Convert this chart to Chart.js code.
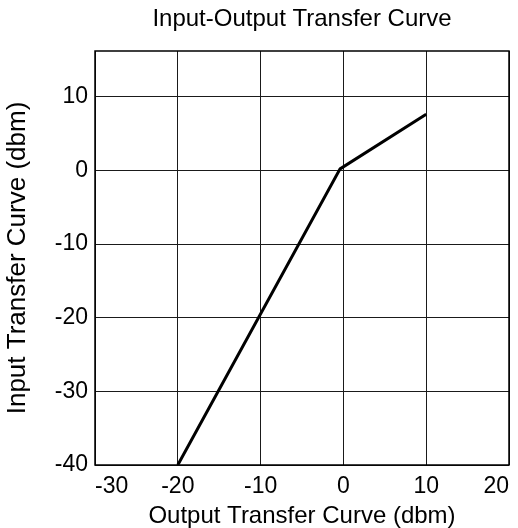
<!DOCTYPE html>
<html>
<head>
<meta charset="utf-8">
<script src="https://cdn.jsdelivr.net/npm/chart.js@4/dist/chart.umd.min.js"></script>
<style>
  html, body { margin: 0; padding: 0; background: #ffffff; }
  #wrap { width: 518px; height: 528px; }
</style>
</head>
<body>
<div id="wrap"><canvas id="curveChart"></canvas></div>
<script>
  // nilai
  const outputDbm = [-20, -0.4, 10];
  const inputDbm = [-40, 0.2, 7.6];
  const xTicks = [-30, -20, -10, 0, 10, 20];
  const yTicks = [-40, -30, -20, -10, 0, 10];
  const yTop = 16.2;

  const points = outputDbm.map((x, i) => ({ x: x, y: inputDbm[i] }));

  const fontName = "'Liberation Sans', Arial, sans-serif";

  // bingkai kotak plot
  const framePlugin = {
    id: 'frame',
    afterDraw(chart) {
      const a = chart.chartArea;
      const ctx = chart.ctx;
      ctx.save();
      ctx.strokeStyle = '#000000';
      ctx.lineWidth = 1.5;
      ctx.strokeRect(a.left, a.top, a.right - a.left, a.bottom - a.top);
      ctx.restore();
    }
  };

  new Chart(document.getElementById('curveChart'), {
    type: 'line',
    data: {
      datasets: [{
        data: points,
        borderColor: '#000000',
        borderWidth: 3,
        pointRadius: 0,
        fill: false,
        tension: 0
      }]
    },
    options: {
      responsive: true,
      maintainAspectRatio: false,
      animation: false,
      layout: { padding: { left: 0, right: 9, top: 0, bottom: 0 } },
      plugins: {
        legend: { display: false },
        tooltip: { enabled: false },
        title: {
          display: true,
          text: 'Input-Output Transfer Curve',
          fullSize: false,
          color: '#000000',
          font: { family: fontName, size: 24, weight: 'normal', lineHeight: 1 },
          padding: { top: 7, bottom: 20 }
        }
      },
      scales: {
        x: {
          type: 'linear',
          min: xTicks[0],
          max: xTicks[xTicks.length - 1],
          afterBuildTicks: scale => { scale.ticks = xTicks.map(v => ({ value: v })); },
          afterFit: scale => { scale.height = 63; scale.paddingLeft = 0; scale.paddingRight = 0; },
          ticks: {
            color: '#000000',
            align: 'inner',
            padding: 8,
            maxRotation: 0,
            font: { family: fontName, size: 23 }
          },
          grid: { color: '#1a1a1a', lineWidth: 1, drawTicks: false },
          border: { display: false },
          title: {
            display: true,
            text: 'Output Transfer Curve (dbm)',
            color: '#000000',
            font: { family: fontName, size: 24, lineHeight: 1 },
            padding: { top: 0, bottom: 0 }
          }
        },
        y: {
          type: 'linear',
          min: yTicks[0],
          max: yTop,
          afterBuildTicks: scale => { scale.ticks = yTicks.map(v => ({ value: v })); },
          afterFit: scale => { scale.width = 95; },
          ticks: {
            color: '#000000',
            padding: 7,
            font: { family: fontName, size: 23 }
          },
          grid: { color: '#1a1a1a', lineWidth: 1, drawTicks: false },
          border: { display: false },
          title: {
            display: true,
            text: 'Input Transfer Curve (dbm)',
            color: '#000000',
            font: { family: fontName, size: 26, lineHeight: 1 },
            padding: { top: 5, bottom: 0 }
          }
        }
      }
    },
    plugins: [framePlugin]
  });
</script>
</body>
</html>
